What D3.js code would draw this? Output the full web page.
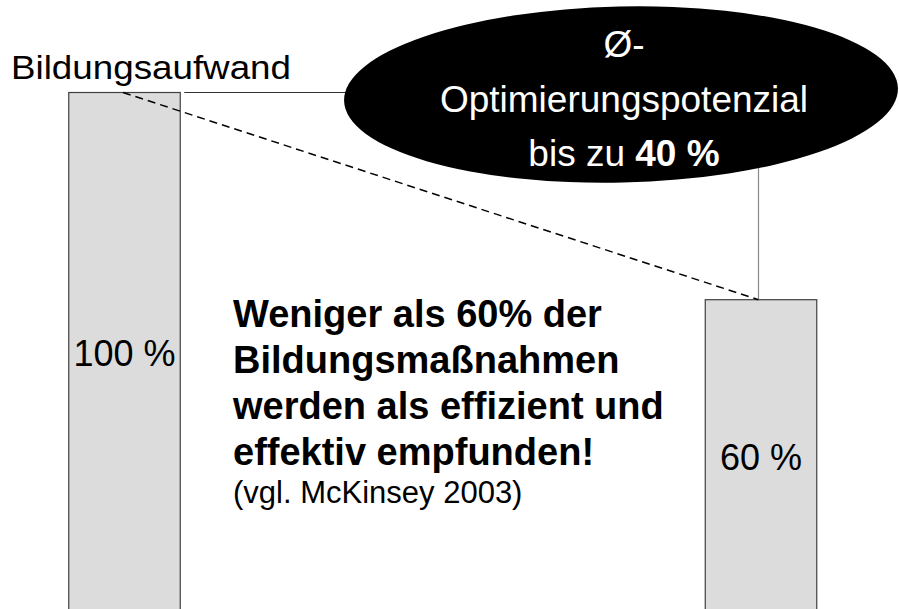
<!DOCTYPE html>
<html>
<head>
<meta charset="utf-8">
<script src="https://cdn.jsdelivr.net/npm/d3@7"></script>
<style>
  body { margin: 0; background: #fff; }
  text { font-family: "Liberation Sans", Arial, sans-serif; }
</style>
</head>
<body>
<div id="chart"></div>
<script>

var categories = ["Ist", "Optimiert"];
var values = [100, 60];
var barLabels = ["100 %", "60 %"];
var axisLabel = "Bildungsaufwand";
var bubbleLines = ["Ø-", "Optimierungspotenzial", "bis zu "];
var bubbleBold = "40 %";
var noteLines = ["Weniger als 60% der", "Bildungsmaßnahmen", "werden als effizient und", "effektiv empfunden!"];
var sourceLine = "(vgl. McKinsey 2003)";

var width = 899;
var height = 609;
var barWidth = 111.5;

var svg = d3.select("#chart")
		.append("svg")
		.attr("width", width)
		.attr("height", height);

var xScale = d3.scalePoint()
		.domain(categories)
		.range([124.5, 761]);

var yScale = d3.scaleLinear()
		.domain([0, 100])
		.range([610.5, 92.5]);

// bars
svg.selectAll(".bar")
	.data(values)
	.enter()
	.append("rect")
	.attr("class", "bar")
	.attr("x", function(d, i) { return xScale(categories[i]) - barWidth / 2; })
	.attr("y", function(d) { return yScale(d); })
	.attr("width", barWidth)
	.attr("height", function(d) { return yScale(0) - yScale(d) + 5; })
	.attr("fill", "#dcdcdc")
	.attr("stroke", "#404040")
	.attr("stroke-width", 1.2);

// bar labels
svg.selectAll(".barlabel")
	.data(barLabels)
	.enter()
	.append("text")
	.attr("class", "barlabel")
	.attr("x", function(d, i) { return xScale(categories[i]); })
	.attr("y", function(d, i) { return i === 0 ? 366 : 470; })
	.attr("text-anchor", "middle")
	.attr("font-size", 36)
	.attr("fill", "#000")
	.text(function(d) { return d; });

// axis label
svg.append("text")
	.attr("x", 11)
	.attr("y", 79)
	.attr("font-size", 33)
	.attr("textLength", 280)
	.attr("lengthAdjust", "spacingAndGlyphs")
	.text(axisLabel);

// connector lines
var x0 = xScale(categories[0]), x1 = xScale(categories[1]);
var y0 = yScale(values[0]), y1 = yScale(values[1]);

svg.append("line")
	.attr("x1", x0 + barWidth / 2 + 4)
	.attr("y1", y0)
	.attr("x2", 360)
	.attr("y2", y0)
	.attr("stroke", "#333")
	.attr("stroke-width", 1);

svg.append("line")
	.attr("x1", x1 - 2.5)
	.attr("y1", 150)
	.attr("x2", x1 - 2.5)
	.attr("y2", y1)
	.attr("stroke", "#888")
	.attr("stroke-width", 1.2);

svg.append("line")
	.attr("x1", x0 - 1.5)
	.attr("y1", y0)
	.attr("x2", x1 - 2.5)
	.attr("y2", y1)
	.attr("stroke", "#000")
	.attr("stroke-width", 1.5)
	.attr("stroke-dasharray", "8,5");

// bubble
var bubble = svg.append("g")
		.attr("transform", "translate(621,94.5)");

bubble.append("ellipse")
	.attr("cx", 0)
	.attr("cy", 0)
	.attr("rx", 277)
	.attr("ry", 88)
	.attr("transform", "rotate(-1.3)")
	.attr("fill", "#000");

var bubbleText = bubble.selectAll(".btext")
		.data(bubbleLines)
		.enter()
		.append("text")
		.attr("class", "btext")
		.attr("x", 3)
		.attr("y", function(d, i) { return -37.5 + i * 54.5; })
		.attr("text-anchor", "middle")
		.attr("font-size", 37)
		.attr("fill", "#fff");

bubbleText.append("tspan")
	.text(function(d) { return d; });

bubbleText.filter(function(d, i) { return i === 2; })
	.append("tspan")
	.attr("font-weight", "bold")
	.text(bubbleBold);

// note
svg.selectAll(".note")
	.data(noteLines)
	.enter()
	.append("text")
	.attr("class", "note")
	.attr("x", 233)
	.attr("y", function(d, i) { return 327 + i * 46; })
	.attr("font-size", 38)
	.attr("font-weight", "bold")
	.attr("fill", "#000")
	.text(function(d) { return d; });

svg.append("text")
	.attr("x", 233)
	.attr("y", 503)
	.attr("font-size", 31)
	.attr("fill", "#000")
	.text(sourceLine);

</script>
</body>
</html>
